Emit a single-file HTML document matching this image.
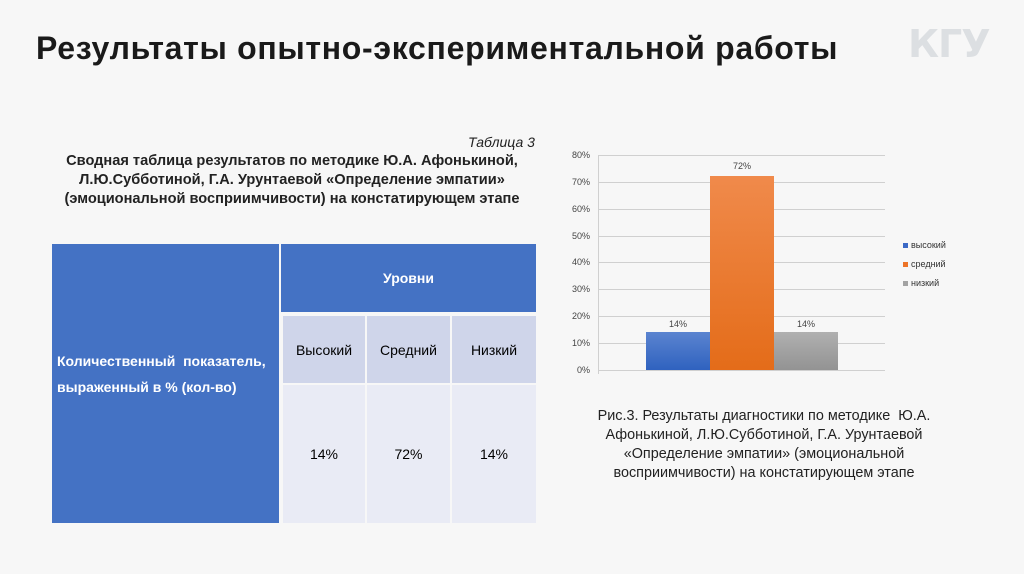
<!DOCTYPE html>
<html><head><meta charset="utf-8"><style>
body{margin:0;width:1024px;height:574px;background:#f7f7f7;font-family:"Liberation Sans","DejaVu Sans",sans-serif;position:relative;overflow:hidden}
.a{position:absolute}
.t{font-weight:bold;font-size:32px;left:36px;top:30px;color:#1a1a1a;letter-spacing:0.7px}
.logo{left:908px;top:22px;font-weight:900;font-size:38px;color:#dcdfe2;letter-spacing:-1px;font-family:"DejaVu Sans",sans-serif}
.cap{font-size:14px;color:#222;text-align:center}
.c{display:flex;align-items:center;justify-content:center;position:absolute;font-size:14px}
</style></head><body>
<div class="a t">Результаты опытно-экспериментальной работы</div>
<div class="a logo">КГУ</div>
<div class="a" style="left:468px;top:134px;font-style:italic;font-size:14px;color:#222">Таблица 3</div>
<div class="a cap" style="left:37px;top:152px;width:510px;font-weight:bold;line-height:19px;font-size:14.6px">Сводная таблица результатов по методике Ю.А. Афонькиной,<br>Л.Ю.Субботиной, Г.А. Урунтаевой «Определение эмпатии»<br>(эмоциональной восприимчивости) на констатирующем этапе</div>
<div class="a" style="left:52px;top:244px;width:227px;height:279px;background:#4472c4"></div>
<div class="a" style="left:57px;top:348px;color:#fff;font-weight:bold;font-size:14px;line-height:26px">Количественный&nbsp; показатель,<br>выраженный в % (кол-во)</div>
<div class="c" style="left:281px;top:244px;width:255px;height:68px;background:#4472c4;color:#fff;font-weight:bold">Уровни</div>
<div class="c" style="left:283px;top:316px;width:82px;height:67px;background:#cfd5ea">Высокий</div>
<div class="c" style="left:367px;top:316px;width:83px;height:67px;background:#cfd5ea">Средний</div>
<div class="c" style="left:452px;top:316px;width:84px;height:67px;background:#cfd5ea">Низкий</div>
<div class="c" style="left:283px;top:385px;width:82px;height:138px;background:#e9ebf5">14%</div>
<div class="c" style="left:367px;top:385px;width:83px;height:138px;background:#e9ebf5">72%</div>
<div class="c" style="left:452px;top:385px;width:84px;height:138px;background:#e9ebf5">14%</div>
<svg class="a" style="left:0;top:0" width="1024" height="574">
<defs>
<linearGradient id="b" x1="0" y1="0" x2="0" y2="1"><stop offset="0" stop-color="#5b84d0"/><stop offset="1" stop-color="#2f62bf"/></linearGradient>
<linearGradient id="o" x1="0" y1="0" x2="0" y2="1"><stop offset="0" stop-color="#f08a4b"/><stop offset="1" stop-color="#e46c19"/></linearGradient>
<linearGradient id="g" x1="0" y1="0" x2="0" y2="1"><stop offset="0" stop-color="#b0b0b0"/><stop offset="1" stop-color="#939393"/></linearGradient>
</defs>
<g stroke="#d0d0d0" stroke-width="1">
<line x1="598" y1="155.5" x2="885" y2="155.5"/><line x1="598" y1="182.5" x2="885" y2="182.5"/><line x1="598" y1="209.5" x2="885" y2="209.5"/><line x1="598" y1="236.5" x2="885" y2="236.5"/><line x1="598" y1="262.5" x2="885" y2="262.5"/><line x1="598" y1="289.5" x2="885" y2="289.5"/><line x1="598" y1="316.5" x2="885" y2="316.5"/><line x1="598" y1="343.5" x2="885" y2="343.5"/><line x1="598" y1="370.5" x2="885" y2="370.5"/><line x1="598.5" y1="155" x2="598.5" y2="374"/>
</g>
<rect x="646" y="332" width="64" height="38" fill="url(#b)"/>
<rect x="710" y="176" width="64" height="194" fill="url(#o)"/>
<rect x="774" y="332" width="64" height="38" fill="url(#g)"/>
<g font-size="9" fill="#444" text-anchor="end" font-family="Liberation Sans,sans-serif">
<text x="590" y="158">80%</text><text x="590" y="185">70%</text><text x="590" y="212">60%</text><text x="590" y="239">50%</text><text x="590" y="265">40%</text><text x="590" y="292">30%</text><text x="590" y="319">20%</text><text x="590" y="346">10%</text><text x="590" y="373">0%</text>
</g>
<g font-size="9" fill="#444" text-anchor="middle">
<text x="678" y="327">14%</text><text x="742" y="169">72%</text><text x="806" y="327">14%</text>
</g>
<rect x="903" y="243" width="5" height="5" fill="#3b69c6"/><rect x="903" y="262" width="5" height="5" fill="#ed7428"/><rect x="903" y="281" width="5" height="5" fill="#a3a3a3"/>
<g font-size="9" fill="#333"><text x="911" y="248">высокий</text><text x="911" y="267">средний</text><text x="911" y="286">низкий</text></g>
</svg>
<div class="a cap" style="left:569px;top:407px;width:390px;line-height:19px;font-size:14.4px">Рис.3. Результаты диагностики по методике&nbsp; Ю.А.<br>Афонькиной, Л.Ю.Субботиной, Г.А. Урунтаевой<br>«Определение эмпатии» (эмоциональной<br>восприимчивости) на констатирующем этапе</div>
</body></html>
